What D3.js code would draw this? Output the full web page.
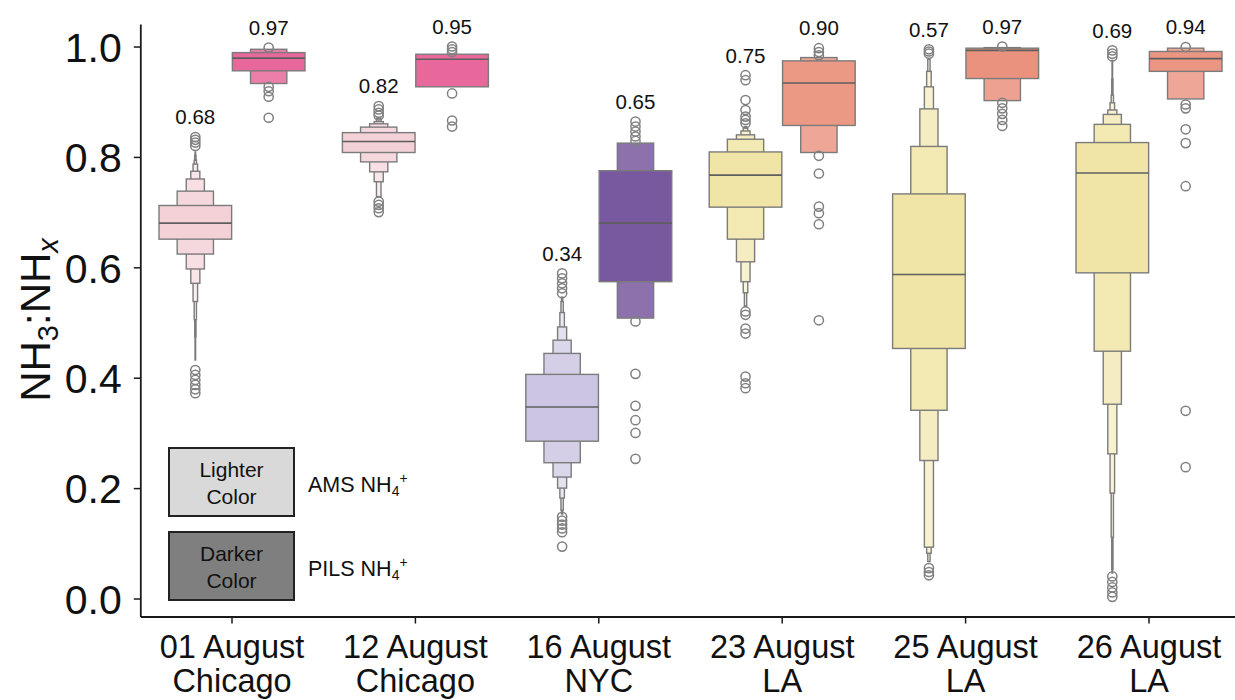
<!DOCTYPE html>
<html>
<head>
<meta charset="utf-8">
<script src="https://cdn.jsdelivr.net/npm/d3@7"></script>
<style>
  body { margin: 0; background: #fff; }
  svg { display: block; font-family: "Liberation Sans", Arial, Helvetica, sans-serif; }
</style>
</head>
<body>
<svg id="chart" width="1235" height="700"></svg>
<script>
// ---- data ---------------------------------------------------------------
const dates = ["01 August", "12 August", "16 August", "23 August", "25 August", "26 August"];
const sites = ["Chicago", "Chicago", "NYC", "LA", "LA", "LA"];
const instruments = ["AMS", "PILS"];
const yTicks = [0.0, 0.2, 0.4, 0.6, 0.8, 1.0];

// series order: for each date, AMS then PILS
const medians = [0.680, 0.979, 0.828, 0.977, 0.347, 0.680,
                 0.767, 0.934, 0.587, 0.993, 0.771, 0.978];

// letter values, innermost (quartiles) first
const upperLV = [
  [0.712, 0.738, 0.760, 0.774, 0.787, 0.794, 0.803, 0.809],
  [0.989, 0.995],
  [0.844, 0.854, 0.860, 0.864, 0.870],
  [0.986],
  [0.406, 0.444, 0.468, 0.492, 0.518, 0.538, 0.546],
  [0.775, 0.825],
  [0.809, 0.832, 0.840, 0.847, 0.852, 0.855],
  [0.974, 0.980],
  [0.733, 0.819, 0.887, 0.927, 0.955, 0.977],
  [0.997, 0.998],
  [0.826, 0.859, 0.877, 0.885, 0.898, 0.912, 0.941, 0.975],
  [0.991, 0.997]
];
const lowerLV = [
  [0.651, 0.624, 0.597, 0.571, 0.538, 0.505, 0.474, 0.432],
  [0.956, 0.933],
  [0.808, 0.791, 0.773, 0.755, 0.728],
  [0.927],
  [0.285, 0.246, 0.220, 0.200, 0.182, 0.160, 0.153],
  [0.574, 0.508],
  [0.709, 0.651, 0.610, 0.574, 0.554, 0.529],
  [0.857, 0.808],
  [0.453, 0.341, 0.250, 0.093, 0.082, 0.067],
  [0.942, 0.902],
  [0.590, 0.448, 0.352, 0.262, 0.191, 0.111, 0.053, 0.046],
  [0.955, 0.905]
];
const outliers = [
  [0.836, 0.831, 0.826, 0.820, 0.414, 0.405, 0.396, 0.387, 0.379, 0.372],
  [0.998, 0.927, 0.919, 0.909, 0.871],
  [0.892, 0.886, 0.880, 0.875, 0.719, 0.713, 0.707, 0.700],
  [1.000, 0.995, 0.990, 0.915, 0.866, 0.855],
  [0.589, 0.580, 0.571, 0.562, 0.553, 0.148, 0.141, 0.134, 0.127, 0.120, 0.094],
  [0.864, 0.855, 0.846, 0.837, 0.829, 0.502, 0.407, 0.349, 0.323, 0.300, 0.253],
  [0.948, 0.939, 0.903, 0.885, 0.873, 0.867, 0.861, 0.520, 0.514, 0.489, 0.480, 0.402, 0.390, 0.381],
  [0.997, 0.990, 0.984, 0.802, 0.770, 0.710, 0.698, 0.678, 0.504],
  [0.995, 0.991, 0.987, 0.055, 0.048, 0.042],
  [1.000, 0.898, 0.888, 0.878, 0.867, 0.856],
  [0.993, 0.987, 0.982, 0.040, 0.030, 0.020, 0.011, 0.003],
  [0.999, 0.895, 0.888, 0.850, 0.825, 0.747, 0.340, 0.238]
];
// mean ratio printed above each distribution
const meanLabels = [0.68, 0.97, 0.82, 0.95, 0.34, 0.65, 0.75, 0.90, 0.57, 0.97, 0.69, 0.94];

// ---- styling --------------------------------------------------------------
const palette = [
  "#f3d1d7", "#e8689b",
  "#f3d1d7", "#e8689b",
  "#ccc6e2", "#78589f",
  "#f0e5a6", "#eb9884",
  "#f0e5a6", "#ea927d",
  "#f0e5a6", "#eb9683"
];
const edgeColor = "#7b7b7b";
const medianColor = "#5e5e5e";
const axisColor = "#1a1a1a";

// ---- layout -------------------------------------------------------------
const svg = d3.select("#chart");

const x = d3.scaleBand().domain(dates).range([140.3, 1240.7]).padding(0);
const xHue = d3.scaleBand().domain(instruments)
  .range([x.bandwidth() * 0.1, x.bandwidth() * 0.9]).padding(0);
const y = d3.scaleLinear().domain([-0.0326, 1.0408]).range([616.5, 24]);

// ---- boxen (letter-value) plots -----------------------------------------
const series = medians.map((m, i) => ({
  cat: dates[Math.floor(i / 2)],
  inst: instruments[i % 2],
  median: m,
  upper: upperLV[i],
  lower: lowerLV[i],
  out: outliers[i],
  label: meanLabels[i],
  color: palette[i]
}));

const plot = svg.append("g");
const W = xHue.bandwidth() * 0.99;

series.forEach(s => {
  const cx = x(s.cat) + xHue(s.inst) + xHue.bandwidth() / 2;
  const g = plot.append("g");
  const levels = s.upper.map((u, i) => ({ u, l: s.lower[i], i }));
  // outermost first so inner boxes sit on top
  levels.slice().reverse().forEach(d => {
    const w = W * Math.pow(0.5, d.i);
    const fade = Math.min(0.85, 0.15 * d.i);
    g.append("rect")
      .attr("x", cx - w / 2)
      .attr("y", y(d.u))
      .attr("width", w)
      .attr("height", y(d.l) - y(d.u))
      .attr("fill", d3.interpolateRgb(s.color, "#ffffff")(fade))
      .attr("stroke", edgeColor)
      .attr("stroke-width", 1.4);
  });
  g.append("line")
    .attr("x1", cx - W / 2).attr("x2", cx + W / 2)
    .attr("y1", y(s.median)).attr("y2", y(s.median))
    .attr("stroke", medianColor).attr("stroke-width", 1.6);

  g.selectAll("circle").data(s.out).join("circle")
    .attr("cx", cx).attr("cy", d => y(d)).attr("r", 4.6)
    .attr("fill", "none").attr("stroke", "#808080").attr("stroke-width", 1.5);

  const top = d3.max([...s.out, ...s.upper]);
  g.append("text")
    .attr("x", cx).attr("y", y(top) - 12.7)
    .attr("text-anchor", "middle")
    .attr("font-size", 20.5).attr("fill", "#111")
    .text(d3.format(".2f")(s.label));
});

// ---- axes -----------------------------------------------------------------
const yAxis = svg.append("g")
  .attr("transform", `translate(${x.range()[0]},0)`)
  .call(d3.axisLeft(y).tickValues(yTicks).tickFormat(d3.format(".1f"))
    .tickSize(6.5).tickSizeOuter(0).tickPadding(12));
yAxis.selectAll("text").attr("font-size", 41).attr("fill", "#111").attr("dy", "0.36em");

const xAxis = svg.append("g")
  .attr("transform", `translate(0,${y.range()[0]})`)
  .call(d3.axisBottom(x).tickSize(7).tickSizeOuter(0));
xAxis.selectAll(".tick text").remove();
xAxis.selectAll(".tick").each(function (d, i) {
  const t = d3.select(this).append("text")
    .attr("fill", "#111").attr("font-size", 32.5).attr("text-anchor", "middle");
  t.append("tspan").attr("x", 0).attr("y", 41).text(d);
  t.append("tspan").attr("x", 0).attr("y", 75.5).text(sites[i]);
});

[yAxis, xAxis].forEach(a => {
  a.select(".domain").attr("stroke", axisColor).attr("stroke-width", 1.8);
  a.selectAll(".tick line").attr("stroke", axisColor).attr("stroke-width", 1.5);
});

// y-axis title: NH3:NHx
const yTitle = svg.append("text")
  .attr("transform", "translate(50,320) rotate(-90)")
  .attr("text-anchor", "middle")
  .attr("font-size", 42).attr("fill", "#111");
yTitle.append("tspan").text("NH");
yTitle.append("tspan").attr("font-size", 29).attr("dy", 8).text("3");
yTitle.append("tspan").attr("dy", -8).text(":NH");
yTitle.append("tspan").attr("font-size", 29).attr("font-style", "italic").attr("dy", 8).text("x");

// ---- legend ---------------------------------------------------------------
const legendItems = [
  { fill: "#d9d9d9", lines: ["Lighter", "Color"], inst: "AMS" },
  { fill: "#7f7f7f", lines: ["Darker", "Color"], inst: "PILS" }
];
const legend = svg.append("g");
legendItems.forEach((d, i) => {
  const top = 448 + i * 84;
  legend.append("rect")
    .attr("x", 169).attr("y", top).attr("width", 125).attr("height", 68)
    .attr("fill", d.fill).attr("stroke", "#222").attr("stroke-width", 2);
  d.lines.forEach((ln, j) => {
    legend.append("text")
      .attr("x", 231.5).attr("y", top + 28.5 + j * 27)
      .attr("text-anchor", "middle").attr("font-size", 21).attr("fill", "#111")
      .text(ln);
  });
  const t = legend.append("text")
    .attr("x", 308).attr("y", top + 43.5)
    .attr("font-size", 21.5).attr("fill", "#111");
  t.append("tspan").text(d.inst + " NH");
  t.append("tspan").attr("font-size", 14).attr("dy", 4).text("4");
  t.append("tspan").attr("font-size", 14).attr("dy", -13).text("+");
});
</script>
</body>
</html>
